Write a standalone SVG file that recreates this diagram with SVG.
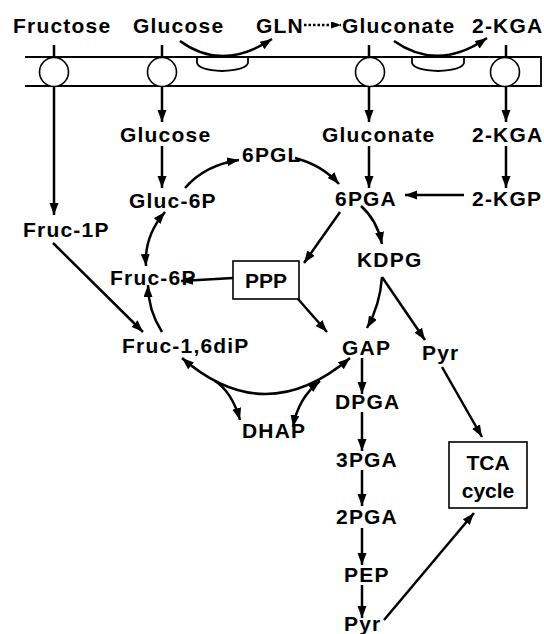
<svg xmlns="http://www.w3.org/2000/svg" width="544" height="634" viewBox="0 0 544 634">
<defs>
<marker id="ah" markerUnits="userSpaceOnUse" markerWidth="13" markerHeight="10" refX="12" refY="4.5" orient="auto-start-reverse"><path d="M0,0 L12,4.5 L0,9 z" fill="#000"/></marker>
<marker id="ahs" markerUnits="userSpaceOnUse" markerWidth="11" markerHeight="8" refX="10" refY="3.5" orient="auto"><path d="M0,0 L10,3.5 L0,7 z" fill="#000"/></marker>
<style>
text{font-family:"Liberation Sans",Arial,sans-serif;font-weight:bold;font-size:21px;letter-spacing:1.2px;fill:#000}
.box{font-size:21px;letter-spacing:0;text-anchor:middle}
.c{fill:none;stroke:#000;stroke-width:2.5;marker-end:url(#ah)}
.d{marker-start:url(#ah)}
.mem{fill:none;stroke:#000;stroke-width:1.8}
.circ{fill:#fff;stroke:#000;stroke-width:1.6}
.rb{fill:#fff;stroke:#000;stroke-width:1.6}
</style>
</defs>
<rect width="544" height="634" fill="#fff"/>
<g id="membrane">
<path class="mem" d="M25,57 H541 V86 H25"/>
<path class="mem" d="M197,57 V63 Q199,70 222,71 Q246,70 248,63 V57"/>
<path class="mem" d="M412,57 V63 Q414,70 438,71 Q462,70 464,63 V57"/>
</g>
<g id="connectors">
<path class="c" d="M54,45 L54,215"/>
<path class="c" d="M162,45 L162,122"/>
<path class="c" d="M162,146 L162,188"/>
<path class="c" d="M369,45 L369,122"/>
<path class="c" d="M369,146 L369,188"/>
<path class="c" d="M506,45 L506,122"/>
<path class="c" d="M506,146 L506,188"/>
<path class="c" d="M180,41 Q222,72 272,39"/>
<path class="c" d="M394,41 Q438,72 487,38"/>
<path fill="none" stroke="#000" stroke-width="2.5" stroke-dasharray="2.5,2" marker-end="url(#ahs)" d="M304,25 L341,25"/>
<path class="c" d="M464,195 L405,195"/>
<path class="c" d="M340,212 L304,263"/>
<path class="c" d="M361,206 Q377,220 382,244"/>
<path class="c" d="M185,188 Q205,165 239,160"/>
<path class="c" d="M295,158 Q322,165 339,184"/>
<path class="c d" d="M165,212 Q144,236 146,266"/>
<path class="c" d="M233,278 L181,281"/>
<path class="c" d="M298,299 L327,332"/>
<path class="c" d="M382,277 Q380,305 367,328"/>
<path class="c" d="M382,277 L425,340"/>
<path class="c" d="M53,243 L143,332"/>
<path class="c" d="M162,332 Q148,310 148,285"/>
<path class="c d" d="M182,358 Q265,430 350,358"/>
<path class="c" d="M215,381 Q232,392 240,420"/>
<path class="c d" d="M293,427 Q298,398 320,381"/>
<path class="c" d="M362,358 L362,394"/>
<path class="c" d="M362,412 L362,451"/>
<path class="c" d="M362,470 L362,506"/>
<path class="c" d="M362,528 L362,565"/>
<path class="c" d="M362,585 L362,618"/>
<path class="c" d="M384,620 L474,513"/>
<path class="c" d="M442,367 L482,437"/>
</g>
<g id="transporter-fructose"><circle class="circ" cx="54" cy="72" r="14.5"/></g>
<g id="transporter-glucose"><circle class="circ" cx="162" cy="72" r="14.5"/></g>
<g id="transporter-gluconate"><circle class="circ" cx="370" cy="72" r="14.5"/></g>
<g id="transporter-2kga"><circle class="circ" cx="505" cy="72" r="14.5"/></g>
<g id="n-fructose-out"><text x="13" y="33">Fructose</text></g>
<g id="n-glucose-out"><text x="133" y="33">Glucose</text></g>
<g id="n-gln"><text x="256" y="33">GLN</text></g>
<g id="n-gluconate-out"><text x="342" y="33">Gluconate</text></g>
<g id="n-2kga-out"><text x="472" y="33">2-KGA</text></g>
<g id="n-glucose-in"><text x="120" y="142">Glucose</text></g>
<g id="n-gluconate-in"><text x="322" y="142">Gluconate</text></g>
<g id="n-2kga-in"><text x="472" y="142">2-KGA</text></g>
<g id="n-6pgl"><text x="242" y="162">6PGL</text></g>
<g id="n-gluc6p"><text x="129" y="208">Gluc-6P</text></g>
<g id="n-6pga"><text x="335" y="206">6PGA</text></g>
<g id="n-2kgp"><text x="472" y="206">2-KGP</text></g>
<g id="n-fruc1p"><text x="23" y="237">Fruc-1P</text></g>
<g id="n-kdpg"><text x="357" y="267">KDPG</text></g>
<g id="n-fruc6p"><text x="110" y="285">Fruc-6P</text></g>
<g id="n-ppp"><rect class="rb" x="233" y="261" width="66" height="38"/><text class="box" x="266" y="288">PPP</text></g>
<g id="n-fruc16dip"><text x="122" y="353">Fruc-1,6diP</text></g>
<g id="n-gap"><text x="342" y="355">GAP</text></g>
<g id="n-pyr1"><text x="422" y="360">Pyr</text></g>
<g id="n-dpga"><text x="335" y="409">DPGA</text></g>
<g id="n-dhap"><text x="242" y="438">DHAP</text></g>
<g id="n-3pga"><text x="336" y="467">3PGA</text></g>
<g id="n-tca"><rect class="rb" x="449" y="442" width="78" height="66"/><text class="box" x="488" y="470">TCA</text><text class="box" x="488" y="498">cycle</text></g>
<g id="n-2pga"><text x="336" y="524">2PGA</text></g>
<g id="n-pep"><text x="344" y="582">PEP</text></g>
<g id="n-pyr2"><text x="344" y="631">Pyr</text></g>
</svg>
